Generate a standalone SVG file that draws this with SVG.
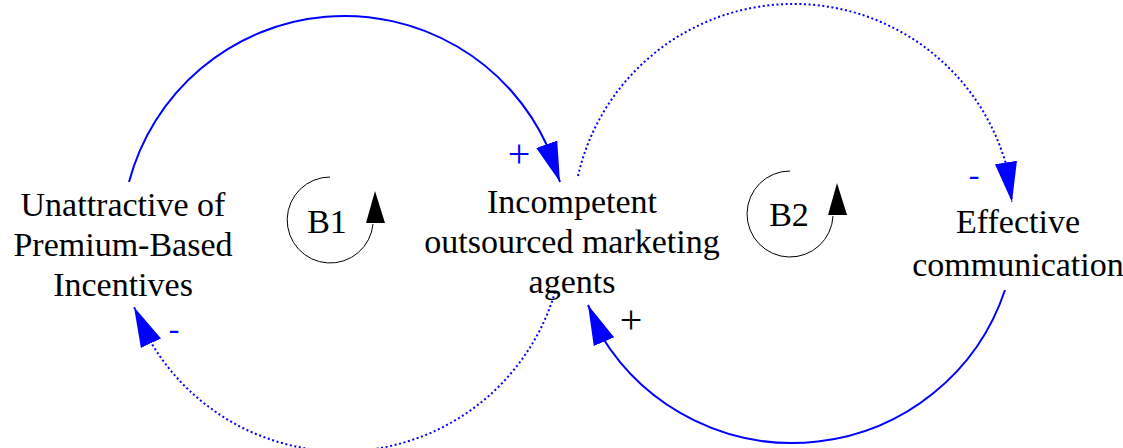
<svg xmlns="http://www.w3.org/2000/svg" width="1123" height="448" viewBox="0 0 1123 448" font-family="'Liberation Serif', 'Times New Roman', serif">
  <style>
    .label { font-family: 'Liberation Serif', 'Times New Roman', serif; font-size: 34px; fill: #000; text-anchor: middle; }
    .sign { font-family: 'Liberation Serif', 'Times New Roman', serif; font-size: 32px; text-anchor: middle; }
    .plus { font-size: 40px; }
    .blue { fill: #0000ff; }
    .black { fill: #000; }
    .link { fill: none; stroke: #0000ff; stroke-width: 2; }
    .dotted { stroke-dasharray: 2 2.6; }
    .loop { fill: none; stroke: #000; stroke-width: 1; }
  </style>
  <defs>
    <marker id="arrow" markerUnits="userSpaceOnUse" markerWidth="40" markerHeight="24" viewBox="0 0 36 20" refX="36" refY="10" orient="auto">
      <path d="M0,0 L36,10 L0,20 z" fill="#0000ff"/>
    </marker>
  </defs>

  <rect width="1123" height="448" fill="#fff"/>

  <g id="connectors">
    <!-- Unattractive -> Incompetent (+) -->
    <path class="link" d="M 129 182 A 223 223 0 0 1 547.5 146.5 L 560 182" marker-end="url(#arrow)"/>
    <!-- Incompetent -> Unattractive (-) -->
    <path class="link dotted" d="M 555 292 A 222 222 0 0 1 149 339 L 134 307" marker-end="url(#arrow)"/>
    <!-- Incompetent -> Effective communication (-) -->
    <path class="link dotted" d="M 578 176 A 221 221 0 0 1 1006.5 166 L 1012 202" marker-end="url(#arrow)"/>
    <!-- Effective communication -> Incompetent (+) -->
    <path class="link" d="M 1005 290 A 224 224 0 0 1 601.5 336 L 588 305" marker-end="url(#arrow)"/>

    <text class="sign plus blue" x="519" y="167">+</text>
    <text class="sign blue" x="174" y="339">-</text>
    <text class="sign blue" x="974" y="185">-</text>
    <text class="sign plus black" x="631" y="333">+</text>
  </g>

  <g id="node-unattractive">
    <text class="label" x="123" y="216">Unattractive of</text>
    <text class="label" x="123" y="256">Premium-Based</text>
    <text class="label" x="123" y="296">Incentives</text>
  </g>

  <g id="node-incompetent">
    <text class="label" x="572" y="213">Incompetent</text>
    <text class="label" x="572" y="253">outsourced marketing</text>
    <text class="label" x="572" y="293">agents</text>
  </g>

  <g id="node-effective">
    <text class="label" x="1018" y="233">Effective</text>
    <text class="label" x="1018" y="276">communication</text>
  </g>

  <g id="loop-b1">
    <path class="loop" d="M 330 177 A 43 43 0 1 0 373 224"/>
    <polygon points="366,223 385,223 375,191" fill="#000"/>
    <text class="label" x="327" y="233">B1</text>
  </g>

  <g id="loop-b2">
    <path class="loop" d="M 790 171 A 43 43 0 1 0 833 216"/>
    <polygon points="828,215 847,215 837,183" fill="#000"/>
    <text class="label" x="789" y="226">B2</text>
  </g>
</svg>
